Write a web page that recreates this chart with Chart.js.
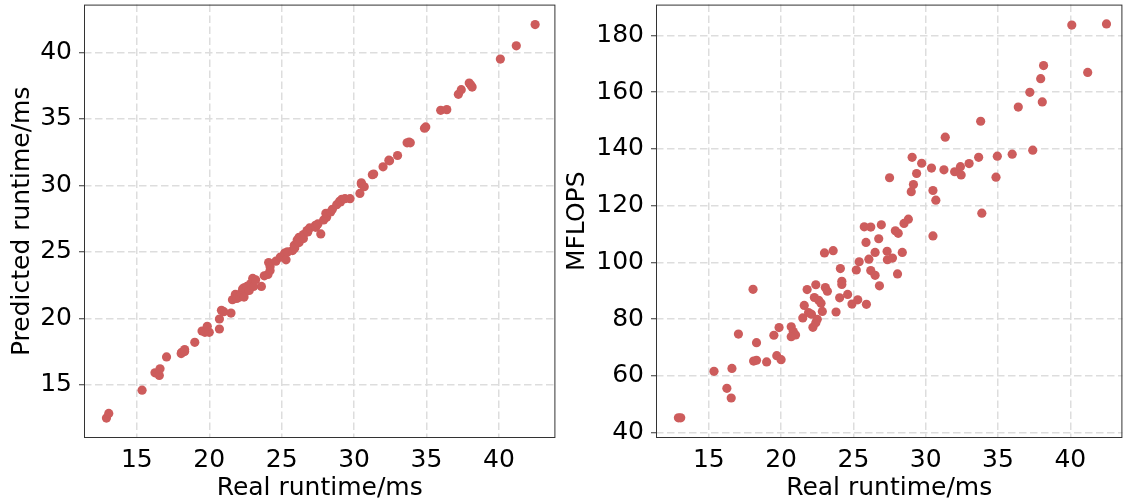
<!DOCTYPE html>
<html>
<head>
<meta charset="utf-8">
<script src="https://cdn.jsdelivr.net/npm/chart.js@4"></script>
<style>
  body { margin: 0; background: #fff; }
  #wrap { position: relative; width: 1127px; height: 502px; }
  #left { position: absolute; left: 0; top: 0; }
  #right { position: absolute; left: 560px; top: 0; }
</style>
</head>
<body>
<div id="wrap">
  <canvas id="left" width="560" height="502"></canvas>
  <canvas id="right" width="567" height="502"></canvas>
</div>
<script>
// real runtime (ms), shared by both plots
const realRuntime = [
  12.9, 13.06, 15.36, 16.25, 16.55, 16.6, 17.05, 18.06, 18.1, 18.3,
  18.3, 19.0, 19.5, 19.7, 20.0, 19.86, 20.7, 20.84, 21.0, 20.7,
  21.5, 21.6, 21.8, 21.9, 22.1, 22.2, 22.4, 22.5, 22.3, 22.4,
  22.6, 22.76, 22.85, 23.0, 23.06, 23.2, 23.6, 23.8, 24.05, 24.1,
  24.2, 24.2, 24.6, 24.9, 25.2, 25.3, 25.4, 25.75, 25.87, 25.9,
  26.07, 26.2, 26.2, 26.5, 26.5, 26.75, 26.8, 26.93, 27.33, 27.35,
  27.5, 27.7, 27.9, 28.1, 28.05, 28.38, 28.5, 28.8, 29.0, 29.06,
  29.15, 29.37, 29.72, 30.4, 30.5, 30.5, 30.7, 31.26, 31.35, 32.0,
  32.4, 32.45, 33.0, 33.66, 33.8, 33.88, 34.86, 34.95, 35.98, 36.4,
  37.2, 37.4, 37.95, 38.06, 38.15, 40.1, 41.2, 42.5
];
const predictedRuntime = [
  12.5, 12.85, 14.6, 15.9, 15.7, 16.2, 17.1, 17.35, 17.45, 17.65,
  17.5, 18.2, 19.05, 18.95, 18.95, 19.4, 19.95, 20.6, 20.5, 19.2,
  20.4, 21.4, 21.8, 21.5, 21.6, 21.9, 21.6, 22.0, 22.2, 22.3,
  22.4, 22.1, 22.6, 23.0, 22.4, 22.9, 22.4, 23.2, 23.3, 24.2,
  23.6, 23.9, 24.3, 24.6, 24.9, 24.4, 25.0, 25.1, 25.5, 25.3,
  25.9, 25.7, 26.1, 26.3, 26.0, 26.6, 26.5, 26.8, 27.0, 26.85,
  27.1, 26.35, 27.4, 27.6, 27.9, 28.0, 28.2, 28.55, 28.8, 28.75,
  28.95, 29.0, 29.0, 29.4, 30.1, 30.2, 29.9, 30.8, 30.85, 31.4,
  31.9, 31.85, 32.25, 33.2, 33.25, 33.2, 34.3, 34.4, 35.65, 35.7,
  36.85, 37.2, 37.7, 37.55, 37.4, 39.5, 40.5, 42.1
];
const mflops = [
  45.2, 45.2, 61.6, 55.6, 52.2, 62.6, 74.7, 90.5, 65.2, 65.5,
  71.7, 64.9, 74.3, 67.1, 65.7, 77.0, 77.3, 75.6, 74.4, 73.8,
  80.4, 84.8, 90.4, 82.3, 81.7, 77.1, 78.7, 79.9, 87.6, 92.1,
  86.6, 85.6, 82.7, 103.3, 91.1, 89.8, 104.1, 82.5, 87.5, 97.8,
  93.3, 92.2, 88.7, 85.3, 97.3, 86.8, 100.2, 112.5, 107.0, 85.2,
  101.1, 112.4, 97.1, 95.4, 103.5, 108.3, 91.7, 113.2, 103.9, 100.9,
  129.8, 101.5, 111.1, 110.2, 95.9, 103.5, 113.7, 115.2, 124.9, 137.0,
  127.4, 131.3, 134.9, 133.2, 125.3, 109.3, 121.9, 132.6, 144.1, 131.9,
  133.7, 130.8, 134.8, 137.0, 149.7, 117.3, 130.0, 137.4, 138.1, 154.7,
  159.9, 139.5, 164.7, 156.5, 169.3, 183.6, 166.9, 184.0
];
const runtimeTicks = [15, 20, 25, 30, 35, 40];
const predictedTicks = [15, 20, 25, 30, 35, 40];
const mflopsTicks = [40, 60, 80, 100, 120, 140, 160, 180];

const dotColor = "#cd5c5c";
const font = { family: "DejaVu Sans", size: 25 };

// full box round the plot area, like matplotlib spines
const frame = {
  id: "frame",
  afterDraw(chart) {
    const { ctx, chartArea: a } = chart;
    ctx.save();
    ctx.strokeStyle = "#333";
    ctx.lineWidth = 1;
    ctx.strokeRect(a.left + 0.5, a.top + 0.5, a.right - a.left - 1, a.bottom - a.top - 1);
    ctx.restore();
  },
};

function makeAxis(min, max, ticks, title, titlePad, fitSize, isX) {
  return {
    type: "linear",
    min: min,
    max: max,
    afterBuildTicks: (scale) => {
      scale.ticks = ticks.map((v) => ({ value: v }));
    },
    afterFit: (scale) => {
      if (isX) {
        scale.height = fitSize;
        scale.paddingLeft = 0;
        scale.paddingRight = 0;
      } else {
        scale.width = fitSize;
        scale.paddingTop = 0;
        scale.paddingBottom = 0;
      }
    },
    grid: {
      color: "#dddddd",
      lineWidth: 1.5,
      drawTicks: true,
      tickLength: 5,
      tickColor: isX ? "rgba(0,0,0,0)" : "#333",
      tickWidth: 1,
      tickBorderDash: [],
    },
    border: { display: false, dash: [7.5, 3.5] },
    ticks: { color: "#000", font: font, padding: isX ? 2 : 7 },
    title: {
      display: true,
      text: title,
      color: "#000",
      font: { family: "DejaVu Sans", size: 25, lineHeight: 1.1 },
      padding: titlePad,
    },
  };
}

function pairs(xs, ys) {
  return xs.map((x, i) => ({ x: x, y: ys[i] }));
}

function scatterConfig(points, xAxis, yAxis, pad) {
  return {
    type: "scatter",
    data: {
      datasets: [
        {
          data: points,
          backgroundColor: dotColor,
          borderWidth: 0,
          pointRadius: 4.6,
        },
      ],
    },
    options: {
      responsive: false,
      animation: false,
      layout: { padding: pad },
      plugins: { legend: { display: false }, tooltip: { enabled: false } },
      scales: { x: xAxis, y: yAxis },
    },
    plugins: [frame],
  };
}

new Chart(
  document.getElementById("left"),
  scatterConfig(
    pairs(realRuntime, predictedRuntime),
    makeAxis(11.35, 43.9, runtimeTicks, "Real runtime/ms", { top: 0, bottom: 0 }, 64, true),
    makeAxis(11.0, 43.6, predictedTicks, "Predicted runtime/ms", { top: 9, bottom: 0 }, 84, false),
    { top: 3, right: 1, left: 0, bottom: 0 }
  )
);

new Chart(
  document.getElementById("right"),
  scatterConfig(
    pairs(realRuntime, mflops),
    makeAxis(11.35, 43.6, runtimeTicks, "Real runtime/ms", { top: 0, bottom: 0 }, 64, true),
    makeAxis(38.1, 190.8, mflopsTicks, "MFLOPS", { top: 4, bottom: 0 }, 96, false),
    { top: 3, right: 0, left: 0, bottom: 0 }
  )
);
</script>
</body>
</html>
